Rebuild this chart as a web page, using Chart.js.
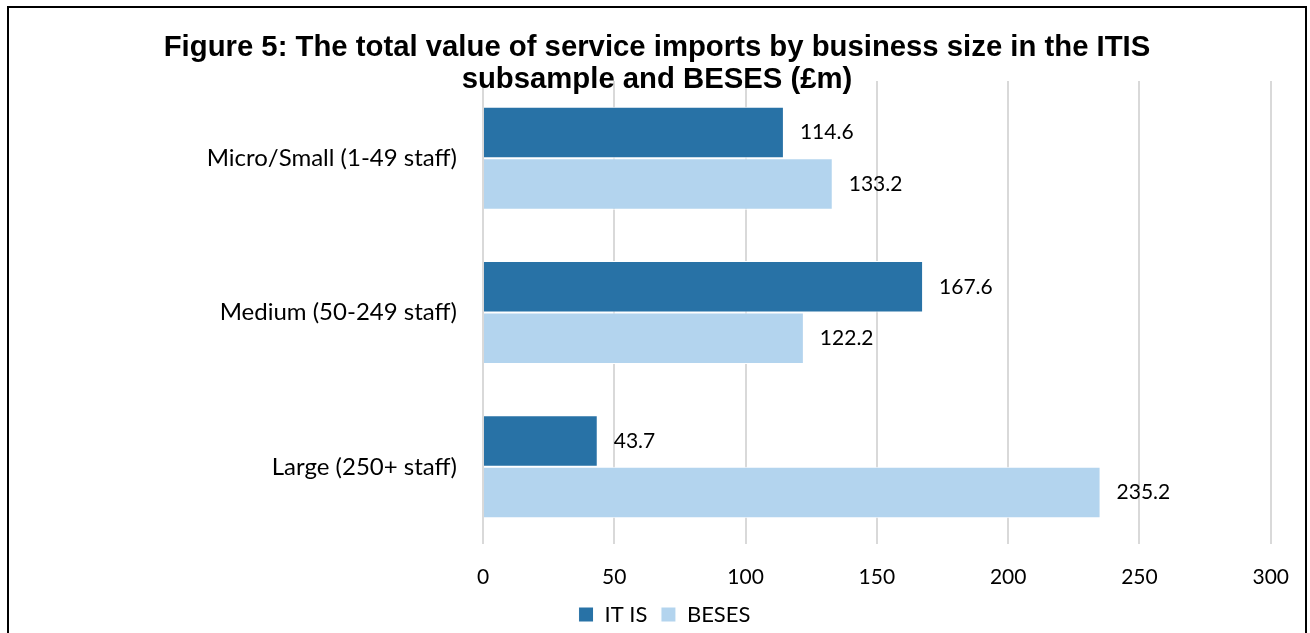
<!DOCTYPE html>
<html>
<head>
<meta charset="utf-8">
<script src="https://cdn.jsdelivr.net/npm/chart.js@4.4.1/dist/chart.umd.min.js"></script>
<style>
    html, body { margin: 0; padding: 0; background: #fff; }
    body { width: 1310px; height: 633px; position: relative; overflow: hidden; }
    .frame {
        position: absolute; left: 7px; top: 6px; width: 1300px; height: 660px;
        border: 2px solid #000; box-sizing: border-box;
    }
    .title {
        position: absolute; left: 7px; width: 1300px; top: 30px; z-index: 2;
        text-align: center; font: bold 29.3px "Liberation Sans", Arial, sans-serif;
        line-height: 32px; color: #000;
    }
    #wrap { position: absolute; left: 0; top: 0; width: 1310px; height: 633px; }
</style>
</head>
<body>
<div class="frame"></div>
<div id="wrap"><canvas id="importsChart"></canvas></div>
<div class="title">Figure 5: The total value of service imports by business size in the ITIS<br>subsample and BESES (£m)</div>
<script>
// Service import values (£m) by business size
const categories = ['Micro/Small (1-49 staff)', 'Medium (50-249 staff)', 'Large (250+ staff)'];
const itisValues = [114.6, 167.6, 43.7];
const besesValues = [133.2, 122.2, 235.2];
const xTicks = [0, 50, 100, 150, 200, 250, 300];

const fontFamily = 'Lato, "Open Sans", sans-serif';
const numberFont = { family: fontFamily, size: 21 };
const categoryFont = { family: fontFamily, size: 24 };
const legendFont = { family: fontFamily, size: 22 };

// writes each bar's value just past its end
const valueLabels = {
    id: 'valueLabels',
    afterDatasetsDraw(chart) {
        const ctx = chart.ctx;
        ctx.save();
        ctx.font = `${numberFont.size}px ${numberFont.family}`;
        ctx.fillStyle = '#000';
        ctx.textAlign = 'left';
        ctx.textBaseline = 'middle';
        chart.data.datasets.forEach((ds, i) => {
            chart.getDatasetMeta(i).data.forEach((bar, j) => {
                ctx.fillText(ds.data[j].toFixed(1), bar.x + 16, bar.y);
            });
        });
        ctx.restore();
    }
};

new Chart(document.getElementById('importsChart'), {
    type: 'bar',
    data: {
        labels: categories,
        datasets: [{
            label: 'IT IS',
            data: itisValues,
            backgroundColor: '#2872A6',
            borderColor: '#ffffff',
            borderWidth: 1,
            barPercentage: 1,
            categoryPercentage: 0.667
        }, {
            label: 'BESES',
            data: besesValues,
            backgroundColor: '#B3D4EE',
            borderColor: '#ffffff',
            borderWidth: 1,
            barPercentage: 1,
            categoryPercentage: 0.667
        }]
    },
    options: {
        indexAxis: 'y',
        responsive: true,
        maintainAspectRatio: false,
        animation: false,
        layout: { padding: { top: 81, right: 36, left: 55, bottom: 0 } },
        plugins: {
            legend: {
                position: 'bottom',
                maxHeight: 43,
                labels: {
                    color: '#000',
                    font: legendFont,
                    boxWidth: 15,
                    boxHeight: 15,
                    padding: 13.5
                }
            },
            tooltip: { enabled: false }
        },
        scales: {
            x: {
                min: 0,
                max: 300,
                afterBuildTicks: (axis) => { axis.ticks = xTicks.map(v => ({ value: v })); },
                afterFit: (axis) => { axis.height = 46; },
                grid: { color: '#d9d9d9', lineWidth: 2, drawTicks: false },
                border: { display: false },
                ticks: { color: '#000', font: numberFont, padding: 21 }
            },
            y: {
                afterFit: (axis) => { axis.width = 428; },
                grid: { display: false, drawTicks: false },
                border: { display: false },
                ticks: { color: '#000', font: categoryFont, padding: 26 }
            }
        }
    },
    plugins: [valueLabels]
});
</script>
</body>
</html>
